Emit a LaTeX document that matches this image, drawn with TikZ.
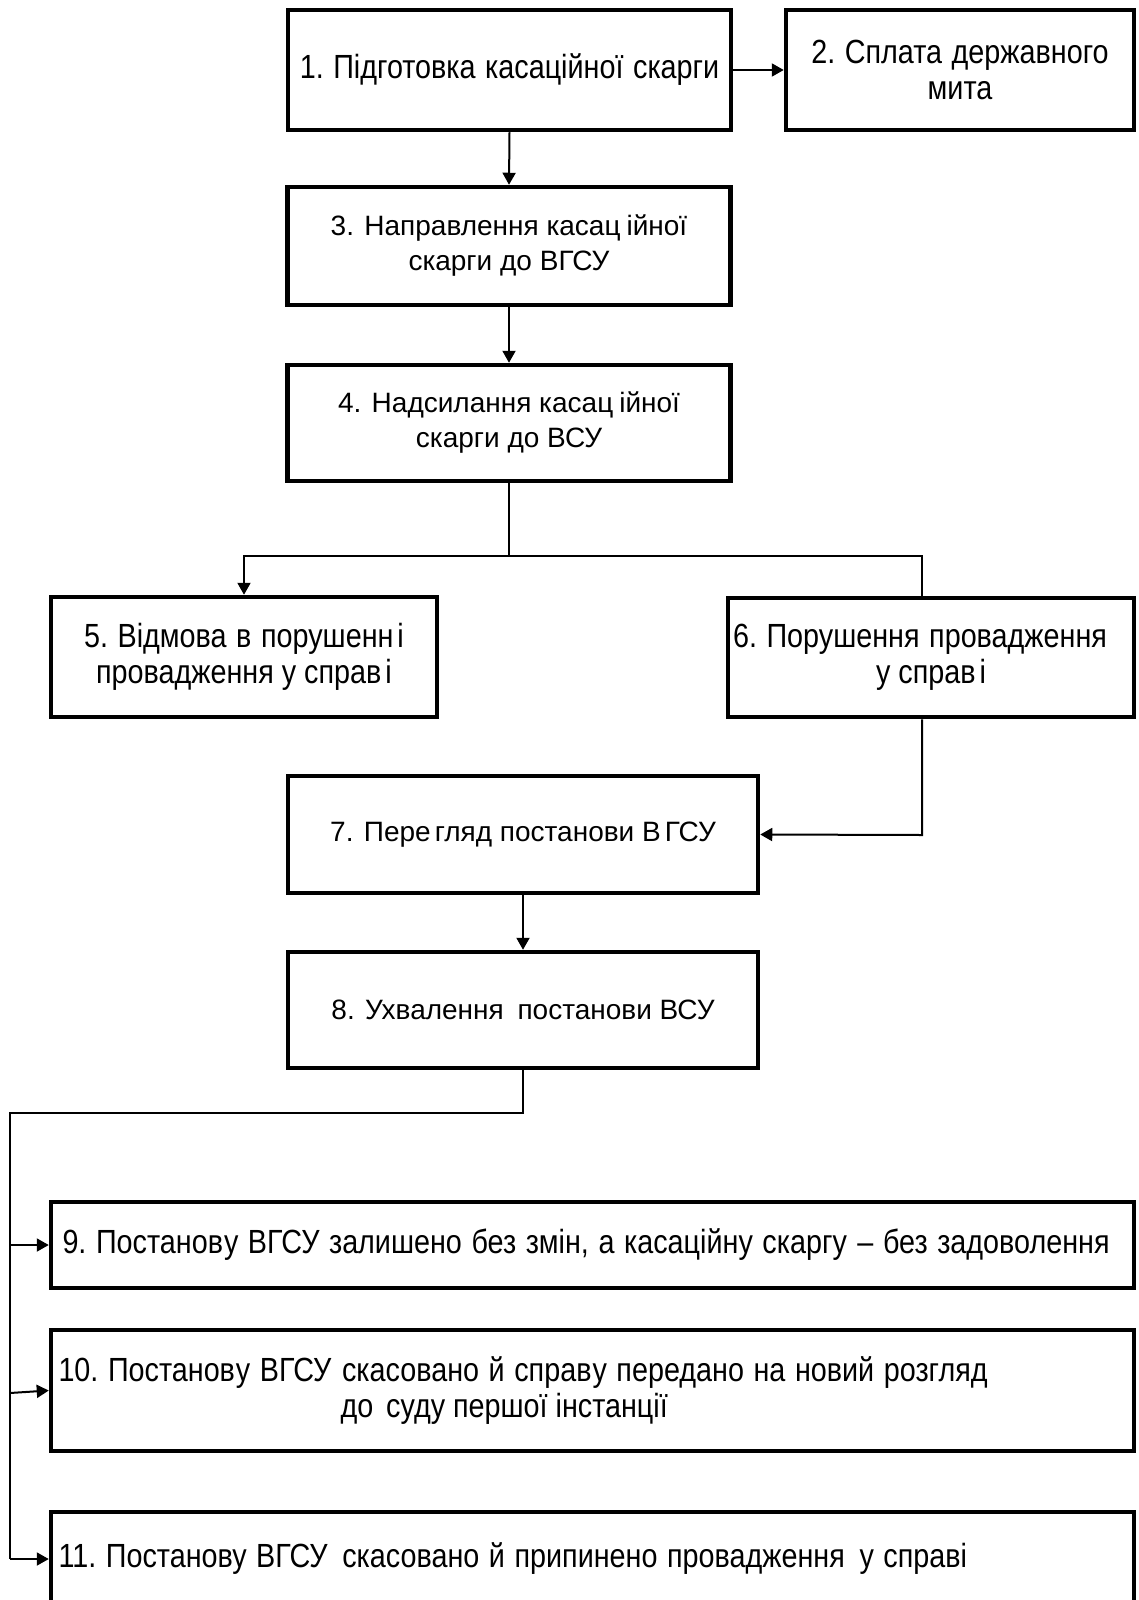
\documentclass[tikz,border=0pt]{standalone}
\usepackage{fontspec}
\setmainfont{Liberation Sans}
\newfontfamily\regfont{Liberation Sans}
\newfontfamily\narfont[FakeStretch=0.858]{Liberation Sans}
\newcommand\myregset{\regfont\fontsize{28}{35}\selectfont}
\newcommand\mynarset{\narfont\fontsize{33.5}{36}\selectfont}
\newcommand\nsp{\spaceskip=9.6pt\xspaceskip=9.6pt\relax}
\usetikzlibrary{arrows.meta}
\begin{document}
\begin{tikzpicture}[x=1pt,y=-1pt,
  box/.style={draw,line width=4.5pt,rectangle,inner sep=0pt,align=center},
  regtxt/.style={font=\myregset},
  nartxt/.style={font=\mynarset},
  conn/.style={line width=2pt},
  arr/.style={conn,-{Triangle[length=12pt,width=13pt]}}]
\useasboundingbox (0,0) rectangle (1138,1600);
\fill[white] (0,0) rectangle (1138,1600);

\node[box,nartxt,minimum width=443,minimum height=120] (b1) at (509.5,70) {\nsp 1. Підготовка касаційної скарги};
\node[box,nartxt,minimum width=348,minimum height=120] (b2) at (960,70) {\nsp 2. Сплата державного\\мита};
\node[box,regtxt,minimum width=443,minimum height=118] (b3) at (509,246) {3. Направлення касац\kern6pt ійної\\скарги до ВГСУ};
\node[box,regtxt,minimum width=443,minimum height=116] (b4) at (509,423) {4. Надсилання касац\kern6pt ійної\\скарги до ВСУ};
\node[box,nartxt,minimum width=386,minimum height=120] (b5) at (244,657) {\nsp 5. Відмова в порушенн\kern4pt і\\провадження у справ\kern4pt і};
\node[box,nartxt,minimum width=406,minimum height=119] (b6) at (931,657.5) {\nsp 6. Порушення провадження\hspace*{22pt}\\у справ\kern4pt і};
\node[box,regtxt,minimum width=470,minimum height=117] (b7) at (523,834.5) {7. Пере\kern4pt гляд постанови В\kern4pt ГСУ};
\node[box,regtxt,minimum width=470,minimum height=116] (b8) at (523,1010) {8. Ухвалення\kern6pt{} постанови ВСУ};
\node[box,nartxt,minimum width=1083,minimum height=86,inner xsep=11.5pt] (b9) at (592.5,1245) {\nsp\makebox[1060pt][l]{9. Постанов\kern1pt у ВГСУ залишено без змін, а касаційну скаргу \kern1pt– без задоволення}};
\node[box,nartxt,minimum width=1083,minimum height=121,inner xsep=7.5pt] (b10) at (592.5,1390.5) {\nsp\makebox[1068pt][l]{10. Постанов\kern1pt у ВГСУ\kern1pt{} скасовано й справ\kern1pt у передано на новий розгляд}\\\makebox[1068pt][l]{\hspace*{282pt}до\kern5pt{} суду першої інстанції}};
\node[box,nartxt,minimum width=1083,minimum height=94,inner xsep=7.5pt] (b11) at (592.5,1559) {\nsp\makebox[1068pt][l]{11. Постанову ВГСУ\kern5pt{} скасовано й припинено провадження\kern5pt{} у справі}};

\coordinate (j1) at (509,556);
\coordinate (j6) at (922,556);
\coordinate (j7) at (922,835);
\coordinate (j8) at (523,1113);
\coordinate (jl) at (10,1113);
\coordinate (a9) at (10,1245);
\coordinate (a10) at (10,1393);
\coordinate (a11) at (10,1559);

\draw[arr] (b1.east) -- (b2.west);
\draw[arr] (b1.south) -- (b3.north);
\draw[arr] (b3.south) -- (b4.north);
\draw[conn] (b4.south) -- (j1);
\draw[arr] (j1) -| (b5.north);
\draw[conn] (j1) -- (j6) -- (b6.north -| j6);
\draw[arr] (b6.south -| j7) -- (j7) -- (b7.east);
\draw[arr] (b7.south) -- (b8.north);
\draw[conn] (b8.south) -- (j8) -- (jl) -- (a11);
\draw[arr] (a9) -- (b9.west);
\draw[arr] (a10) -- (b10.west);
\draw[arr] (a11) -- (b11.west);
\end{tikzpicture}
\end{document}
